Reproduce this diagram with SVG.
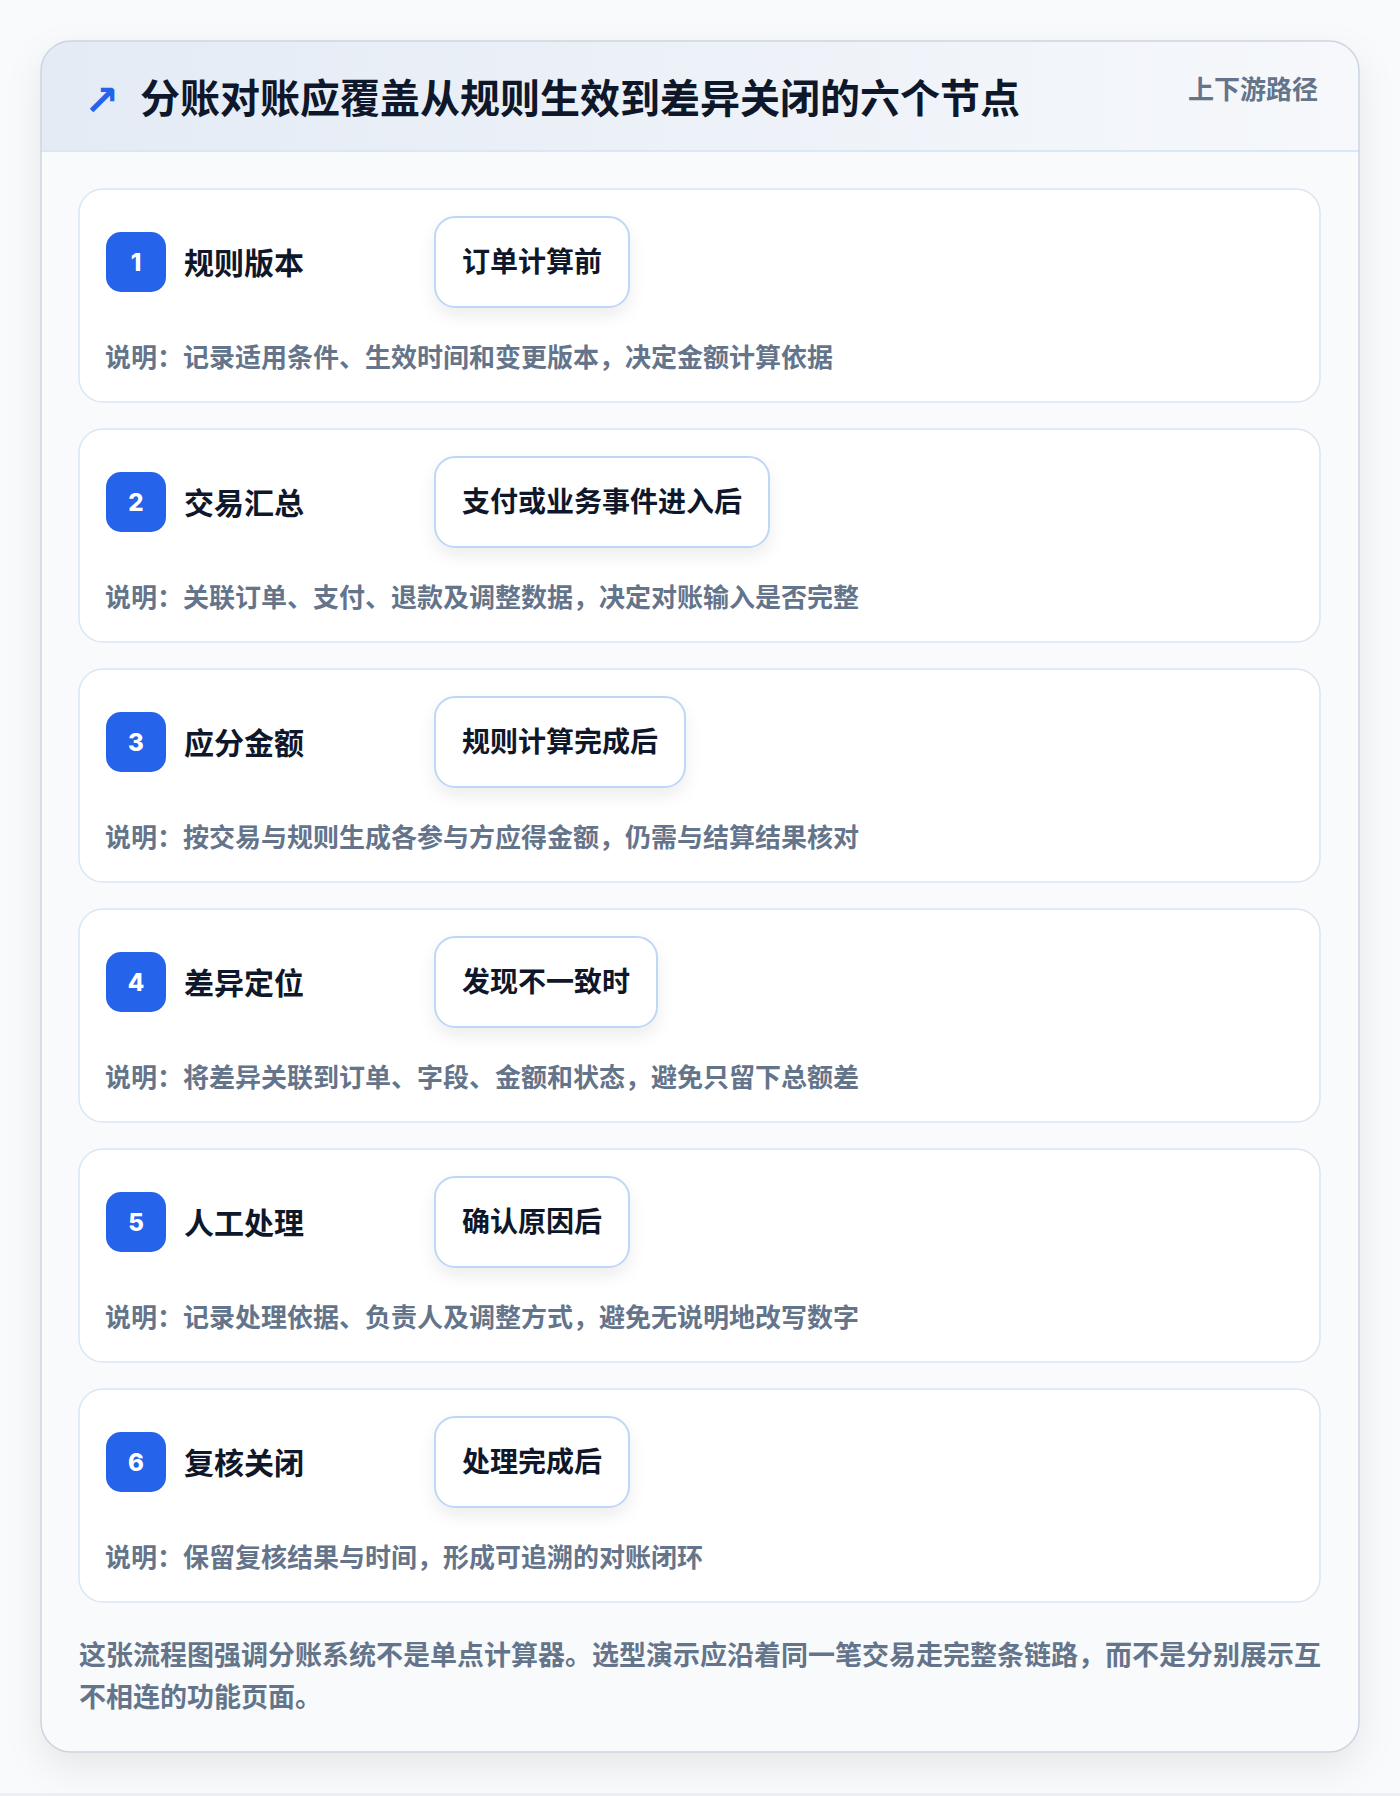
<svg xmlns="http://www.w3.org/2000/svg" width="1400" height="1796" viewBox="0 0 1400 1796">
<defs>
<linearGradient id="hdr" x1="0" y1="0" x2="1" y2="0">
<stop offset="0" stop-color="#e4ebf5"/>
<stop offset="1" stop-color="#f6f8fb"/>
</linearGradient>
<filter id="cardShadow" x="-10%" y="-10%" width="120%" height="120%">
<feDropShadow dx="0" dy="14" stdDeviation="18" flood-color="#0f172a" flood-opacity="0.08"/>
</filter>
<filter id="tagShadow" x="-20%" y="-30%" width="140%" height="170%">
<feDropShadow dx="0" dy="8" stdDeviation="8" flood-color="#0f172a" flood-opacity="0.07"/>
</filter>
<clipPath id="cardClip"><rect x="41" y="41" width="1318" height="1711" rx="30"/></clipPath>
<style>
.t{font-family:"Noto Sans CJK SC","Noto Sans",sans-serif;font-weight:700}
.title{font-size:40px;fill:#0f172a}
.sub{font-size:26px;fill:#64748b}
.card{fill:#ffffff;stroke:#d9e6f6;stroke-width:1.5}
.badge{fill:#2563eb}
.num{font-family:"Inter","Noto Sans",sans-serif;font-weight:800;font-size:24px;fill:#ffffff}
.ntitle{font-size:30px;fill:#0f172a}
.tag{fill:#ffffff;stroke:#bfd6f6;stroke-width:2}
.tagt{font-size:28px;fill:#0f172a}
.desc{font-size:26px;fill:#64748b}
.foot{font-size:27px;fill:#64748b}
</style>
</defs>
<rect x="0" y="0" width="1400" height="1796" fill="#f9fafb"/>
<rect x="0" y="1793" width="1400" height="3" fill="#eceef2"/>
<g id="frame">
<rect x="41" y="41" width="1318" height="1711" rx="30" fill="#f8fafc" filter="url(#cardShadow)"/>
<g clip-path="url(#cardClip)">
<rect x="41" y="41" width="1318" height="110" fill="url(#hdr)"/>
<rect x="41" y="150" width="1318" height="2" fill="#dbe7f5"/>
<rect x="41" y="152" width="1318" height="1600" fill="#f8fafc"/>
</g>
<rect x="41" y="41" width="1318" height="1711" rx="30" fill="none" stroke="#cbd5e1" stroke-width="1.5"/>
</g>
<g id="header">
<text x="84" y="115" font-family="DejaVu Sans,sans-serif" font-size="42" font-weight="700" fill="#2563eb">↗</text>
<text class="t title" x="140" y="113">分账对账应覆盖从规则生效到差异关闭的六个节点</text>
<text class="t sub" x="1318" y="99" text-anchor="end">上下游路径</text>
</g>
<g id="connectors"></g>
<g id="node1">
<rect class="card" x="79" y="189" width="1241" height="213" rx="24"/>
<rect class="badge" x="106" y="232" width="60" height="60" rx="15"/>
<text class="num" x="136" y="271" text-anchor="middle">1</text>
<text class="t ntitle" x="184" y="274">规则版本</text>
<rect class="tag" x="435" y="217" width="194" height="90" rx="20" filter="url(#tagShadow)"/>
<text class="t tagt" x="532" y="272" text-anchor="middle">订单计算前</text>
<text class="t desc" x="105" y="367">说明：记录适用条件、生效时间和变更版本，决定金额计算依据</text>
</g>
<g id="node2">
<rect class="card" x="79" y="429" width="1241" height="213" rx="24"/>
<rect class="badge" x="106" y="472" width="60" height="60" rx="15"/>
<text class="num" x="136" y="511" text-anchor="middle">2</text>
<text class="t ntitle" x="184" y="514">交易汇总</text>
<rect class="tag" x="435" y="457" width="334" height="90" rx="20" filter="url(#tagShadow)"/>
<text class="t tagt" x="602" y="512" text-anchor="middle">支付或业务事件进入后</text>
<text class="t desc" x="105" y="607">说明：关联订单、支付、退款及调整数据，决定对账输入是否完整</text>
</g>
<g id="node3">
<rect class="card" x="79" y="669" width="1241" height="213" rx="24"/>
<rect class="badge" x="106" y="712" width="60" height="60" rx="15"/>
<text class="num" x="136" y="751" text-anchor="middle">3</text>
<text class="t ntitle" x="184" y="754">应分金额</text>
<rect class="tag" x="435" y="697" width="250" height="90" rx="20" filter="url(#tagShadow)"/>
<text class="t tagt" x="560" y="752" text-anchor="middle">规则计算完成后</text>
<text class="t desc" x="105" y="847">说明：按交易与规则生成各参与方应得金额，仍需与结算结果核对</text>
</g>
<g id="node4">
<rect class="card" x="79" y="909" width="1241" height="213" rx="24"/>
<rect class="badge" x="106" y="952" width="60" height="60" rx="15"/>
<text class="num" x="136" y="991" text-anchor="middle">4</text>
<text class="t ntitle" x="184" y="994">差异定位</text>
<rect class="tag" x="435" y="937" width="222" height="90" rx="20" filter="url(#tagShadow)"/>
<text class="t tagt" x="546" y="992" text-anchor="middle">发现不一致时</text>
<text class="t desc" x="105" y="1087">说明：将差异关联到订单、字段、金额和状态，避免只留下总额差</text>
</g>
<g id="node5">
<rect class="card" x="79" y="1149" width="1241" height="213" rx="24"/>
<rect class="badge" x="106" y="1192" width="60" height="60" rx="15"/>
<text class="num" x="136" y="1231" text-anchor="middle">5</text>
<text class="t ntitle" x="184" y="1234">人工处理</text>
<rect class="tag" x="435" y="1177" width="194" height="90" rx="20" filter="url(#tagShadow)"/>
<text class="t tagt" x="532" y="1232" text-anchor="middle">确认原因后</text>
<text class="t desc" x="105" y="1327">说明：记录处理依据、负责人及调整方式，避免无说明地改写数字</text>
</g>
<g id="node6">
<rect class="card" x="79" y="1389" width="1241" height="213" rx="24"/>
<rect class="badge" x="106" y="1432" width="60" height="60" rx="15"/>
<text class="num" x="136" y="1471" text-anchor="middle">6</text>
<text class="t ntitle" x="184" y="1474">复核关闭</text>
<rect class="tag" x="435" y="1417" width="194" height="90" rx="20" filter="url(#tagShadow)"/>
<text class="t tagt" x="532" y="1472" text-anchor="middle">处理完成后</text>
<text class="t desc" x="105" y="1567">说明：保留复核结果与时间，形成可追溯的对账闭环</text>
</g>
<g id="footer">
<text class="t foot" x="79" y="1665">这张流程图强调分账系统不是单点计算器。选型演示应沿着同一笔交易走完整条链路，而不是分别展示互</text>
<text class="t foot" x="79" y="1707">不相连的功能页面。</text>
</g>
</svg>
